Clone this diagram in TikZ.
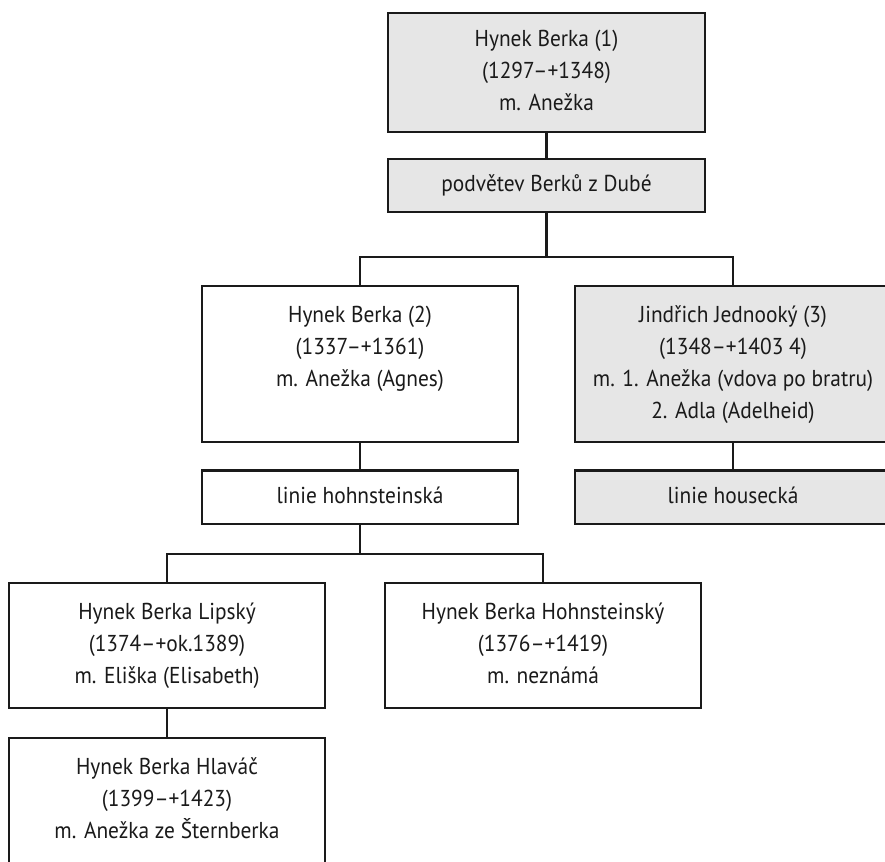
\documentclass[tikz,border=0pt]{standalone}
\usepackage{fontspec}
\setmainfont{PT Sans}[FakeStretch=0.93]
\usetikzlibrary{calc}
\definecolor{boxgray}{HTML}{E6E6E6}
\definecolor{ink}{HTML}{1A1A1A}
\begin{document}
\begin{tikzpicture}[x=1pt,y=-1pt,
  box/.style={draw=ink, line width=2.1pt, minimum width=316pt, align=center, inner sep=0pt, text=ink, fill=white, font=\fontsize{23}{32}\selectfont},
  grayfill/.style={fill=boxgray},
  conn/.style={draw=ink, line width=2.1pt}]
\useasboundingbox (0,0) rectangle (885,861);
\node[box, grayfill, minimum width=317pt, minimum height=119pt] (b1) at (546.5,72.5) {\strut Hynek Berka (1)\\(1297–+1348)\\m. Anežka\strut};
\node[box, grayfill, minimum width=317pt, minimum height=53pt] (b2) at (546.5,185.5) {\strut podvětev Berků z Dubé};
\node[box, minimum height=156pt] (b3) at (360,364) {\strut Hynek Berka (2)\\(1337–+1361)\\m. Anežka (Agnes)\\\strut};
\node[box, grayfill, minimum height=156pt] (b4) at (733,364) {\strut Jindřich Jednooký (3)\\(1348–+1403 4)\\m. 1. Anežka (vdova po bratru)\\2. Adla (Adelheid)\strut};
\node[box, minimum height=53.5pt] (b5) at (360,497.2) {\strut linie hohnsteinská};
\node[box, grayfill, minimum height=53.5pt] (b6) at (733,497.2) {\strut linie housecká};
\node[box, minimum height=125pt] (b7) at (167,645.5) {\strut Hynek Berka Lipský\\(1374–+ok.1389)\\m. Eliška (Elisabeth)\strut};
\node[box, minimum height=125pt] (b8) at (543,645.5) {\strut Hynek Berka Hohnsteinský\\(1376–+1419)\\m. neznámá\strut};
\node[box, minimum height=125pt] (b9) at (167,800.5) {\strut Hynek Berka Hlaváč\\(1399–+1423)\\m. Anežka ze Šternberka\strut};
\coordinate (j1) at (546.5,257);
\coordinate (j2) at (360,554);
\draw[conn] (b1.south) -- (b2.north);
\draw[conn] (b2.south) -- (j1);
\draw[conn] (b3.north) |- (j1) -| (b4.north);
\draw[conn] (b3.south) -- (b5.north);
\draw[conn] (b4.south) -- (b6.north);
\draw[conn] (b5.south) -- (j2);
\draw[conn] (b7.north) |- (j2) -| (b8.north);
\draw[conn] (b7.south) -- (b9.north);
\end{tikzpicture}
\end{document}
